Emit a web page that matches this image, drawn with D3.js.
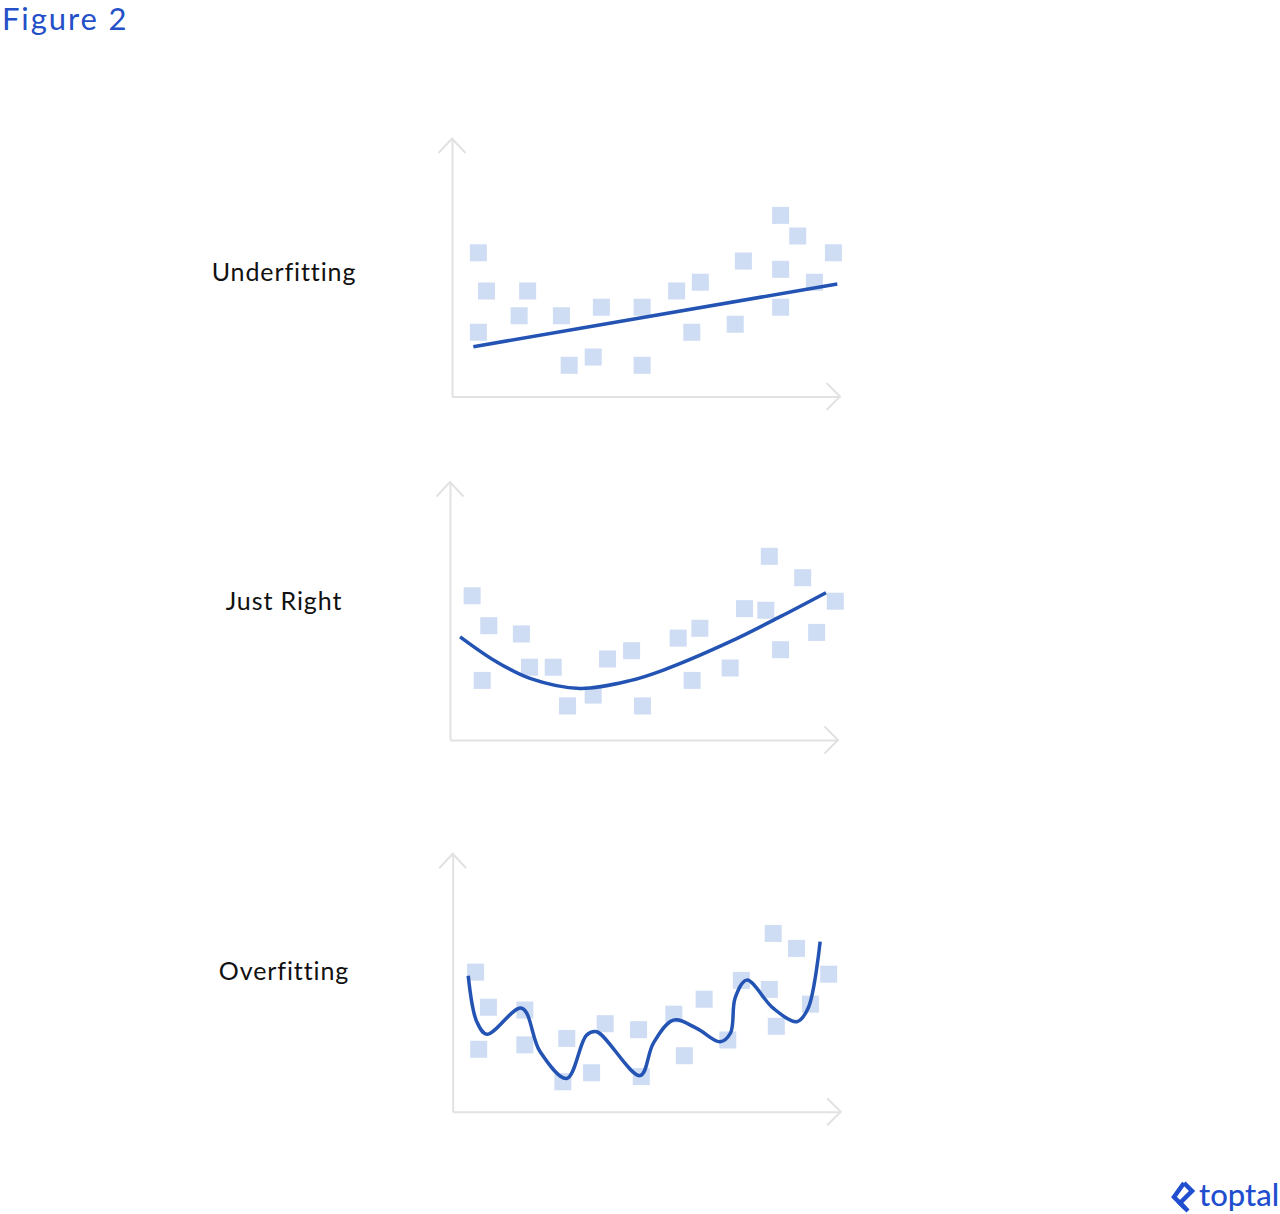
<!DOCTYPE html>
<html lang="en">
<head>
    <meta charset="UTF-8">
    <title>Figure 2</title>
    <script src="https://cdn.jsdelivr.net/npm/d3@7/dist/d3.min.js"></script>
    <style>
        body { margin: 0; background: #fff; }
        svg { display: block; }
    </style>
</head>
<body>
<div id="d3"></div>
<script>
    var width = 1280;
    var height = 1214;

    var titles = ["Underfitting", "Just Right", "Overfitting"];

    // scatter points, x and y in 0..100 units of each panel
    var underX = [6.8, 8.9, 19.5, 17.3, 6.8, 28.2, 30.2, 36.4, 38.5, 49.0, 49.0, 57.9, 64.0, 61.8, 73.0, 75.1, 84.7, 89.1, 84.7, 84.7, 93.4, 98.3];
    var underY = [55.7, 40.9, 40.9, 31.3, 24.9, 31.3, 12.1, 15.3, 34.6, 34.6, 12.1, 40.9, 44.3, 24.9, 28.0, 52.5, 70.2, 62.2, 49.3, 34.6, 44.3, 55.7];
    var rightX = [5.7, 10.0, 18.4, 8.3, 20.5, 26.6, 30.3, 36.9, 40.6, 46.8, 49.6, 58.8, 64.4, 62.4, 72.2, 75.9, 81.4, 82.3, 85.2, 90.9, 94.5, 99.3];
    var rightY = [55.9, 44.3, 41.1, 23.1, 28.2, 28.2, 13.2, 17.4, 31.4, 34.6, 13.2, 39.5, 43.3, 23.1, 27.9, 50.9, 50.3, 71.2, 35.0, 62.9, 41.7, 53.8];
    var overX = [5.9, 9.2, 6.7, 18.6, 18.6, 29.4, 28.4, 35.8, 39.3, 47.9, 48.6, 57.0, 64.8, 59.7, 70.9, 74.4, 81.6, 82.6, 83.4, 88.6, 92.2, 96.9];
    var overY = [54.1, 40.5, 24.2, 39.4, 25.9, 28.4, 11.6, 15.1, 34.1, 31.8, 13.6, 37.8, 43.6, 21.7, 27.8, 50.9, 47.4, 69.1, 33.1, 63.3, 41.7, 53.3];

    // fitted curves
    var underFitX = [5.5, 99.3];
    var underFitY = [19.3, 43.6];
    var rightFitX = [2.6, 12.0, 20.6, 33.5, 46.4, 55.0, 72.2, 85.1, 96.9];
    var rightFitY = [40.0, 30.3, 23.9, 20.0, 23.0, 27.1, 38.1, 47.8, 57.1];
    var overFitX = [4.0, 6.2, 8.8, 17.8, 22.5, 29.4, 34.5, 37.1, 48.3, 51.7, 56.9, 62.9, 68.9, 71.6, 72.8, 75.8, 82.6, 88.7, 91.6, 94.7];
    var overFitY = [52.7, 34.9, 30.0, 40.1, 23.3, 12.9, 29.7, 31.0, 14.0, 26.5, 35.5, 32.3, 27.1, 30.5, 44.1, 51.0, 40.1, 34.9, 40.1, 65.9];

    var panels = [
        {ox: 452, oy: 396.5, ly: 281, px: underX, py: underY, fx: underFitX, fy: underFitY},
        {ox: 450, oy: 740, ly: 610, px: rightX, py: rightY, fx: rightFitX, fy: rightFitY},
        {ox: 452.7, oy: 1111.7, ly: 980, px: overX, py: overY, fx: overFitX, fy: overFitY}
    ];

    var plotW = 388;
    var plotH = 258;
    var sq = 17;
    var axisColor = "#e2e2e2";
    var pointColor = "#cedcf4";
    var lineColor = "#2353b3";
    var blue = "#204ecf";

    var svg = d3.select("#d3")
            .append("svg")
            .attr("width", width)
            .attr("height", height);

    svg.append("text")
            .attr("x", 2)
            .attr("y", 30)
            .style("font-family", "Lato, sans-serif")
            .style("font-size", "31px")
            .style("letter-spacing", "1.9px")
            .style("fill", "#2350c8")
            .text("Figure 2");

    var xScale = d3.scaleLinear()
            .domain([0, 100])
            .range([0, plotW]);

    var yScale = d3.scaleLinear()
            .domain([0, 100])
            .range([plotH, 0]);

    var line = d3.line()
            .x(function (d) { return xScale(d[0]); })
            .y(function (d) { return yScale(d[1]); });

    panels.forEach(function (p, k) {
        var g = svg.append("g")
                .attr("transform", "translate(" + p.ox + "," + (p.oy - plotH) + ")");

        g.append("g")
                .attr("transform", "translate(0," + plotH + ")")
                .call(d3.axisBottom(xScale).tickValues([]).tickSizeOuter(0));

        g.append("g")
                .call(d3.axisLeft(yScale).tickValues([]).tickSizeOuter(0));

        g.selectAll(".domain")
                .attr("stroke", axisColor)
                .attr("stroke-width", 2);

        // arrow heads
        g.append("path")
                .attr("d", "M-13.5,14.5L0,0L13.5,14.5")
                .attr("fill", "none")
                .attr("stroke", axisColor)
                .attr("stroke-width", 2);

        g.append("path")
                .attr("d", "M" + (plotW - 13.5) + "," + (plotH - 13.5) + "L" + plotW + "," + plotH + "L" + (plotW - 13.5) + "," + (plotH + 13.5))
                .attr("fill", "none")
                .attr("stroke", axisColor)
                .attr("stroke-width", 2);

        var pts = d3.zip(p.px, p.py);
        g.selectAll("rect")
                .data(pts)
                .enter()
                .append("rect")
                .attr("x", function (d) { return xScale(d[0]) - sq / 2; })
                .attr("y", function (d) { return yScale(d[1]) - sq / 2; })
                .attr("width", sq)
                .attr("height", sq)
                .attr("fill", pointColor);

        line.curve(k === 0 ? d3.curveLinear : d3.curveCatmullRom.alpha(0.5));
        g.append("path")
                .datum(d3.zip(p.fx, p.fy))
                .attr("d", line)
                .attr("fill", "none")
                .attr("stroke", lineColor)
                .attr("stroke-width", 3.5)
                .attr("stroke-linejoin", "round");

        svg.append("text")
                .attr("x", 284)
                .attr("y", p.ly)
                .attr("text-anchor", "middle")
                .style("font-family", "Lato, sans-serif")
                .style("font-size", "25px")
                .style("letter-spacing", "0.9px")
                .style("fill", "#111")
                .text(titles[k]);
    });

    // toptal logo
    var logo = svg.append("g");
    logo.append("path")
            .attr("d", "M1184,1183L1192,1191L1180,1203L1185,1208")
            .attr("fill", "none")
            .attr("stroke", blue)
            .attr("stroke-width", 4.5);
    logo.append("path")
            .attr("d", "M1184,1183L1174,1197L1188,1211")
            .attr("fill", "none")
            .attr("stroke", blue)
            .attr("stroke-width", 4.5);
    logo.append("text")
            .attr("x", 1199)
            .attr("y", 1206)
            .style("font-family", "Lato, sans-serif")
            .style("font-size", "31px")
            .style("font-weight", "500")
            .style("fill", blue)
            .text("toptal");
</script>
</body>
</html>
